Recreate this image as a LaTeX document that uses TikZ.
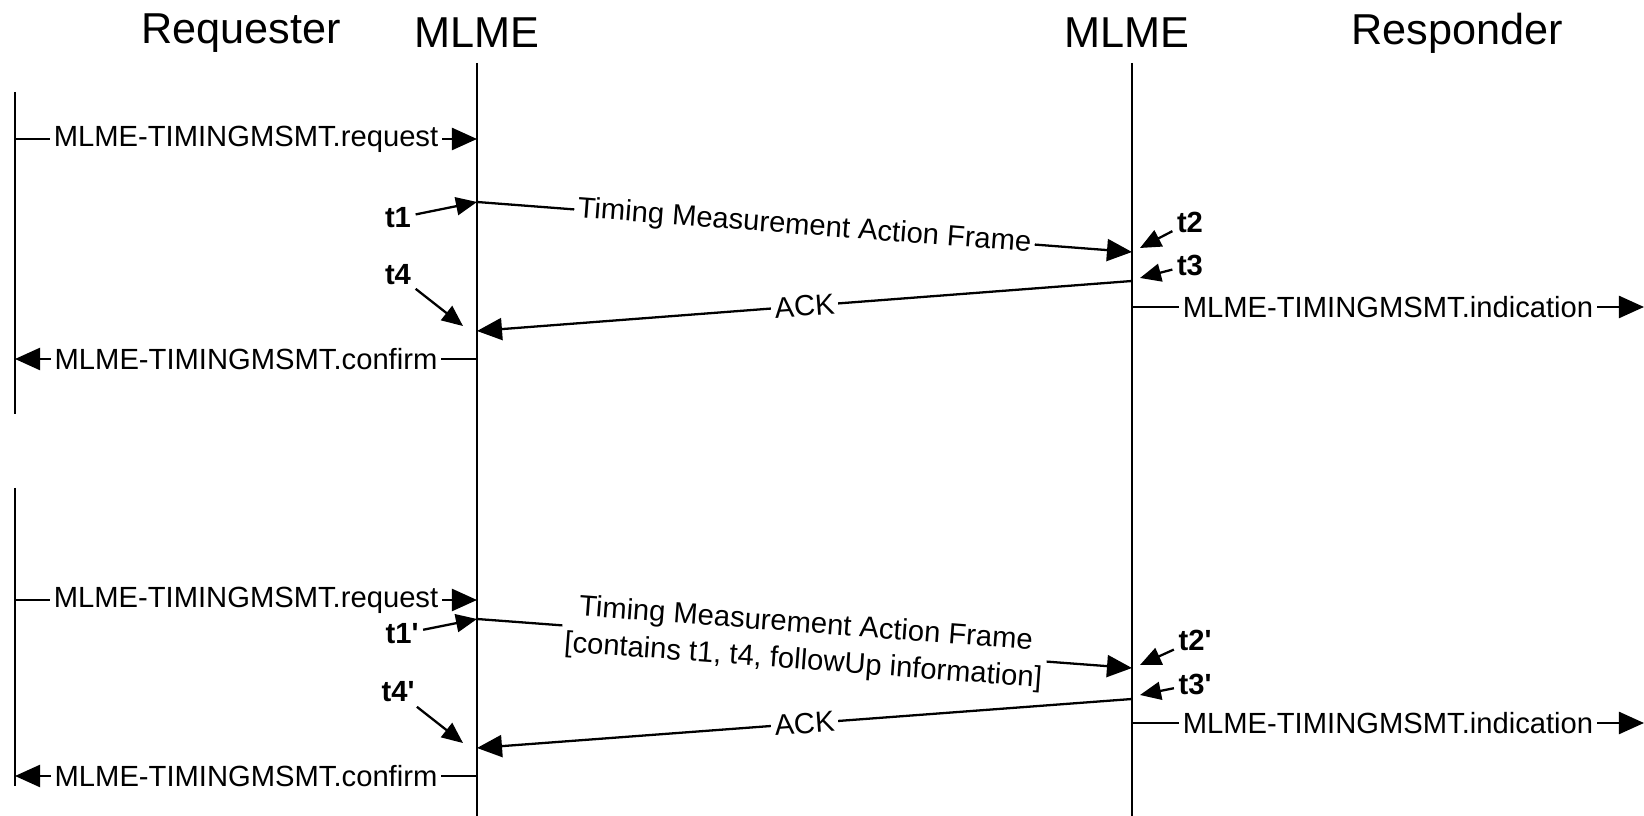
\documentclass[tikz,border=0pt]{standalone}
\usepackage{fontspec}
\setmainfont{Liberation Sans}
\usetikzlibrary{arrows.meta}

\begin{document}
\begin{tikzpicture}[x=0.01cm,y=-0.01cm,line width=0.65pt,
		msg/.style={-{Triangle[length=2.5mm,width=2.2mm]}},
		tick/.style={-{Triangle[length=2.1mm,width=1.8mm]}},
		lbl/.style={fill=white,inner sep=1pt,font=\fontsize{8.3}{10.5}\selectfont},
		tname/.style={inner sep=1pt,font=\fontsize{8.3}{9}\selectfont\bfseries},
		head/.style={font=\fontsize{12.3}{14}\selectfont}]
			\useasboundingbox (0,0) rectangle (1644,816);

			% headers
			\node(req)	at (241,33)  [head] {Requester};
			\node(mlA)	at (477,33)  [head] {MLME};
			\node(mlB)	at (1127,33) [head] {MLME};
			\node(rsp)	at (1457,33) [head] {Responder};

			% lifelines
			\coordinate(mAtop) at (477,63);
			\coordinate(mAbot) at (477,816);
			\coordinate(mBtop) at (1132,63);
			\coordinate(mBbot) at (1132,816);
			\coordinate(q1top) at (15,92);
			\coordinate(q1bot) at (15,414);
			\coordinate(q2top) at (15,488);
			\coordinate(q2bot) at (15,786);
			\draw(mAtop) -- (mAbot);
			\draw(mBtop) -- (mBbot);
			\draw(q1top) -- (q1bot);
			\draw(q2top) -- (q2bot);

			% first exchange
			\coordinate(rq1s) at (15,139);
			\coordinate(rq1e) at (477,139);
			\coordinate(f1s)  at (477,202);
			\coordinate(f1e)  at (1132,252);
			\coordinate(a1s)  at (1132,281);
			\coordinate(a1e)  at (477,331);
			\coordinate(in1s) at (1132,307);
			\coordinate(in1e) at (1644,307);
			\coordinate(cf1s) at (477,359);
			\coordinate(cf1e) at (15,359);
			\coordinate(p2)   at (1140,248);
			\coordinate(p3)   at (1140,278);
			\coordinate(p4)   at (463,326);

			\node(t1) at (398,218) [tname] {t1};
			\node(t2) at (1190,222) [tname] {t2};
			\node(t3) at (1190,265) [tname] {t3};
			\node(t4) at (398,275) [tname] {t4};

			\draw[msg](rq1s) -- node[lbl] {MLME-TIMINGMSMT.request} (rq1e);
			\draw[msg](f1s) -- node[lbl,sloped] {Timing Measurement Action Frame} (f1e);
			\draw[msg](a1s) -- node[lbl,sloped] {ACK} (a1e);
			\draw[msg](in1s) -- node[lbl] {MLME-TIMINGMSMT.indication} (in1e);
			\draw[msg](cf1s) -- node[lbl] {MLME-TIMINGMSMT.confirm} (cf1e);
			\draw[tick](t1) -- (f1s);
			\draw[tick](t2) -- (p2);
			\draw[tick](t3) -- (p3);
			\draw[tick](t4) -- (p4);

			% second exchange
			\coordinate(rq2s) at (15,600);
			\coordinate(rq2e) at (477,600);
			\coordinate(f2s)  at (477,619);
			\coordinate(f2e)  at (1132,668);
			\coordinate(a2s)  at (1132,699);
			\coordinate(a2e)  at (477,748);
			\coordinate(in2s) at (1132,723);
			\coordinate(in2e) at (1644,723);
			\coordinate(cf2s) at (477,776);
			\coordinate(cf2e) at (15,776);
			\coordinate(p2b)  at (1140,665);
			\coordinate(p3b)  at (1140,695);
			\coordinate(p4b)  at (463,743);

			\node(t1b) at (402,634) [tname] {t1\textquotesingle};
			\node(t2b) at (1195,640) [tname] {t2\textquotesingle};
			\node(t3b) at (1195,684) [tname] {t3\textquotesingle};
			\node(t4b) at (398,692) [tname] {t4\textquotesingle};

			\draw[msg](rq2s) -- node[lbl] {MLME-TIMINGMSMT.request} (rq2e);
			\draw[msg](f2s) -- node[lbl,sloped,align=center] {Timing Measurement Action Frame\\{[}contains t1, t4, followUp information{]}} (f2e);
			\draw[msg](a2s) -- node[lbl,sloped] {ACK} (a2e);
			\draw[msg](in2s) -- node[lbl] {MLME-TIMINGMSMT.indication} (in2e);
			\draw[msg](cf2s) -- node[lbl] {MLME-TIMINGMSMT.confirm} (cf2e);
			\draw[tick](t1b) -- (f2s);
			\draw[tick](t2b) -- (p2b);
			\draw[tick](t3b) -- (p3b);
			\draw[tick](t4b) -- (p4b);
		\end{tikzpicture}
\end{document}
